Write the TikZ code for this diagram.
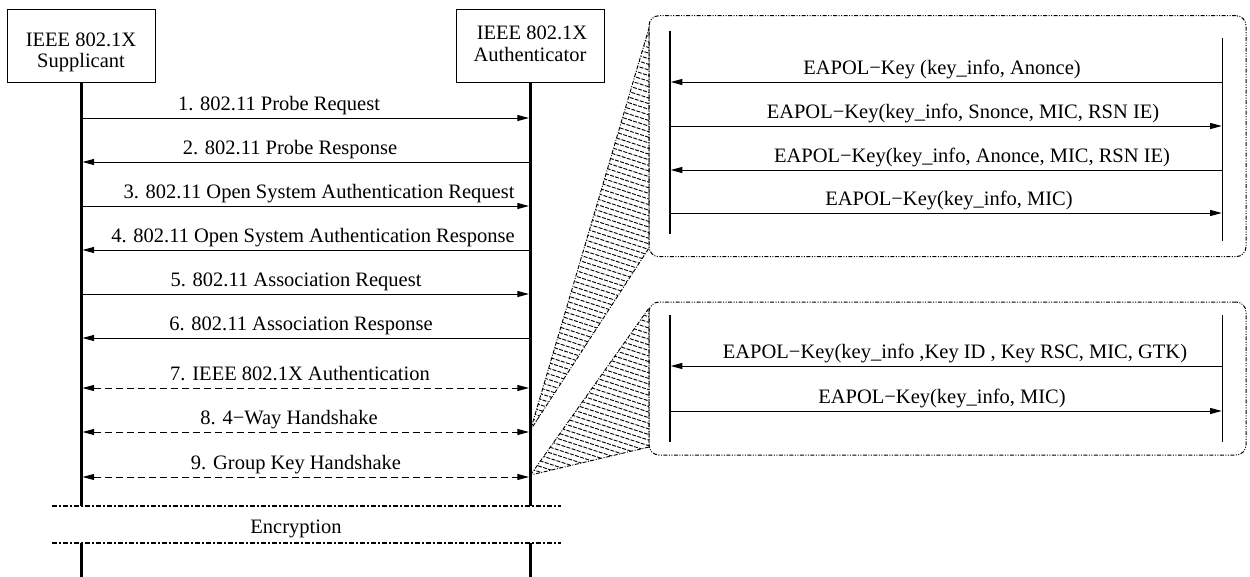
\documentclass[tikz,border=0pt]{standalone}
\usepackage{fontspec}
\setmainfont{Liberation Serif}
\usetikzlibrary{arrows.meta,patterns.meta}

\begin{document}
\begin{tikzpicture}[x=0.6pt,y=-0.6pt,
  font=\fontsize{12.3}{13}\selectfont,
  actor/.style={draw,line width=0.6pt,minimum width=88.8pt,minimum height=43.8pt,inner sep=0pt},
  life/.style={line width=1.8pt},
  sublife/.style={line width=0.8pt},
  msg/.style={line width=0.6pt,shorten >=0.9pt,shorten <=0.9pt},
  head/.tip={Triangle[length=7pt,width=3.6pt]},
  msgR/.style={msg,-head},
  msgL/.style={msg,head-},
  msgB/.style={msg,head-head,dash pattern=on 4pt off 2.6pt},
  kmsgR/.style={line width=0.6pt,shorten >=0.4pt,-head},
  kmsgL/.style={line width=0.6pt,shorten <=0.4pt,head-},
  lbl/.style={anchor=base,inner sep=0pt},
  callout/.style={draw,line width=0.6pt,rounded corners=6pt,
    dash pattern=on 2.4pt off 0.9pt on 0.6pt off 0.9pt on 0.6pt off 0.9pt,
    minimum width=358.2pt,inner sep=0pt},
  hatch/.style={draw,line width=0.55pt,
    dash pattern=on 2.4pt off 0.9pt on 0.6pt off 0.9pt,
    pattern={Lines[angle=-18,distance=3.2pt,line width=0.55pt]}},
  sep/.style={line width=1.4pt,dash pattern=on 3pt off 1.2pt on 1.2pt off 1.2pt}
]
\useasboundingbox (0,0) rectangle (1250,577);

% the two parties
\node[actor] (sup)  at (81,45.5) {};
\node[actor] (auth) at (530.5,45.5) {};
\node[lbl] (supA)  at (81,46.5) {IEEE 802.1X};
\node[lbl] (supB)  at (81,67) {Supplicant};
\node[lbl] (authA) at (532,39.5) {IEEE 802.1X};
\node[lbl] (authB) at (530,61) {Authenticator};

% lifelines, interrupted by the encryption band
\coordinate (supCut)   at (sup.south |- 0,506);
\coordinate (supRes)   at (sup.south |- 0,543);
\coordinate (supEnd)   at (sup.south |- 0,577);
\coordinate (authCut)  at (auth.south |- 0,506);
\coordinate (authRes)  at (auth.south |- 0,543);
\coordinate (authEnd)  at (auth.south |- 0,577);
\draw[life] (sup.south) -- (supCut);
\draw[life] (supRes) -- (supEnd);
\draw[life] (auth.south) -- (authCut);
\draw[life] (authRes) -- (authEnd);

% encryption band
\coordinate (encL1) at (52,506);
\coordinate (encR1) at (561,506);
\coordinate (encL2) at (52,543);
\coordinate (encR2) at (561,543);
\draw[sep] (encL1) -- (encR1);
\draw[sep] (encL2) -- (encR2);
\node[lbl] (enc) at (296,533) {Encryption};

% association and authentication messages
\foreach \y/\s/\x/\t in {
  118/msgR/279/{1. 802.11 Probe Request},
  162/msgL/290/{2. 802.11 Probe Response},
  206/msgR/319/{3. 802.11 Open System Authentication Request},
  250/msgL/313/{4. 802.11 Open System Authentication Response},
  294/msgR/296/{5. 802.11 Association Request},
  338/msgL/301/{6. 802.11 Association Response},
  388/msgB/300/{7. IEEE 802.1X Authentication},
  432/msgB/289/{8. 4−Way Handshake},
  477/msgB/296/{9. Group Key Handshake}}
{
  \draw[\s] (sup.south |- 0,\y) -- (auth.south |- 0,\y);
  \node[lbl] (m\y) at (\x,\y-8) {\t};
}

% magnifier wedges towards the detail boxes
\draw[hatch] (auth.south |- 0,430) -- (649,28) -- (649,248) -- cycle;
\draw[hatch] (auth.south |- 0,475) -- (649,308) -- (649,447) -- cycle;

% detail boxes
\node[callout,minimum height=144.6pt] (four) at (947.5,136.2) {};
\node[callout,minimum height=91.8pt]  (group) at (947.5,378.5) {};

% 4-way handshake
\coordinate (fS1) at (670,31);
\coordinate (fS2) at (670,234);
\coordinate (fA1) at (1222.5,38);
\coordinate (fA2) at (1222.5,241);
\draw[sublife] (fS1) -- (fS2);
\draw[sublife] (fA1) -- (fA2);
\foreach \y/\s/\x/\t in {
  82/kmsgL/942/{EAPOL−Key (key\_info, Anonce)},
  126/kmsgR/963/{EAPOL−Key(key\_info, Snonce, MIC, RSN IE)},
  170/kmsgL/972/{EAPOL−Key(key\_info, Anonce, MIC, RSN IE)},
  213/kmsgR/949/{EAPOL−Key(key\_info, MIC)}}
{
  \draw[\s] (fS1 |- 0,\y) -- (fA1 |- 0,\y);
  \node[lbl] (k\y) at (\x,\y-8) {\t};
}

% group key handshake
\coordinate (gS1) at (670,315);
\coordinate (gS2) at (670,442);
\coordinate (gA1) at (1222.5,315);
\coordinate (gA2) at (1222.5,442);
\draw[sublife] (gS1) -- (gS2);
\draw[sublife] (gA1) -- (gA2);
\foreach \y/\s/\x/\t in {
  366/kmsgL/955/{EAPOL−Key(key\_info ,Key ID , Key RSC, MIC, GTK)},
  411/kmsgR/942/{EAPOL−Key(key\_info, MIC)}}
{
  \draw[\s] (gS1 |- 0,\y) -- (gA1 |- 0,\y);
  \node[lbl] (g\y) at (\x,\y-8) {\t};
}
\end{tikzpicture}
\end{document}
